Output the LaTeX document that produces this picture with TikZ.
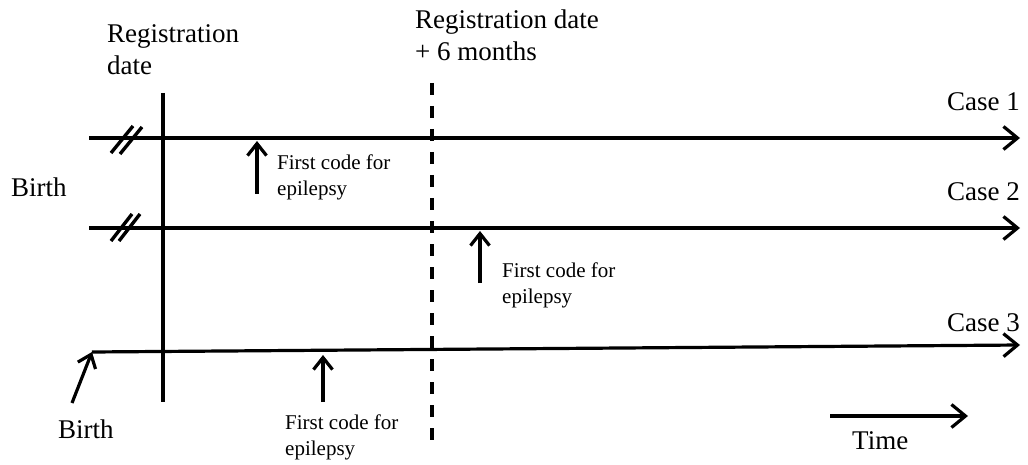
\documentclass[tikz,border=0pt]{standalone}
\usepackage{fontspec}
\setmainfont{Liberation Serif}
\usetikzlibrary{arrows.meta}
\begin{document}
\begin{tikzpicture}[x=1pt,y=-1pt,
  bigarrow/.style={line width=3.2pt,-{Straight Barb[length=14pt,width=23pt,line width=3.2pt]}},
  uparrow/.style={line width=3.2pt,-{Straight Barb[length=12pt,width=19pt,line width=3.2pt]}},
  breakmark/.style={line width=3.4pt},
  regline/.style={line width=3.2pt},
  sixline/.style={line width=3.2pt,dash pattern=on 12pt off 11pt},
  bigtext/.style={font=\fontsize{27}{32}\selectfont,inner sep=0pt,align=left,anchor=north west},
  smalltext/.style={font=\fontsize{21}{25.5}\selectfont,inner sep=0pt,align=left,anchor=north west},
]
\useasboundingbox (0,0) rectangle (1028,465);

% labels
\node[bigtext] (reg) at (107,24) {Registration\\date};
\node[bigtext] (reg6) at (415,10) {Registration date\\+ 6 months};
\node[bigtext] (birth1) at (11,178) {Birth};
\node[bigtext] (birth3) at (58,420) {Birth};
\node[bigtext,anchor=base east] (case1) at (1020,111) {Case 1};
\node[bigtext,anchor=base east] (case2) at (1020,201) {Case 2};
\node[bigtext,anchor=base east] (case3) at (1020,331) {Case 3};
\node[bigtext,anchor=base west] (time) at (852,449) {Time};
\node[smalltext] (fc1) at (277,155) {First code for\\epilepsy};
\node[smalltext] (fc2) at (502,263) {First code for\\epilepsy};
\node[smalltext] (fc3) at (285,415) {First code for\\epilepsy};

% coordinates
\coordinate (c1s) at (89,138);
\coordinate (c1e) at (1020,138);
\coordinate (c2s) at (89,228);
\coordinate (c2e) at (1020,228);
\coordinate (c3s) at (92,352);
\coordinate (c3e) at (1020,345);
\coordinate (regtop) at (163,93);
\coordinate (regbot) at (163,402);
\coordinate (sixtop) at (432,83);
\coordinate (sixbot) at (432,446);
\coordinate (t1) at (257,141);
\coordinate (b1) at (257,194);
\coordinate (t2) at (480,231);
\coordinate (b2) at (480,283);
\coordinate (t3) at (323,355);
\coordinate (b3) at (323,402);
\coordinate (bt) at (72,403);
\coordinate (ts) at (830,416);
\coordinate (te) at (968,416);

% timelines
\draw[bigarrow] (c1s) -- (c1e);
\draw[bigarrow] (c2s) -- (c2e);
\draw[bigarrow] (c3s) -- (c3e);

% break marks
\draw[breakmark] (111,153) -- (133,126);
\draw[breakmark] (120,154) -- (142,127);
\draw[breakmark] (111,241) -- (132,214);
\draw[breakmark] (119,241) -- (140,214);

% vertical lines
\draw[regline] (regtop) -- (regbot);
\draw[sixline] (sixtop) -- (sixbot);

% first code arrows
\draw[uparrow] (b1) -- (t1);
\draw[uparrow] (b2) -- (t2);
\draw[uparrow] (b3) -- (t3);

% birth arrow
\draw[uparrow] (bt) -- (c3s);

% time arrow
\draw[bigarrow] (ts) -- (te);
\end{tikzpicture}
\end{document}
